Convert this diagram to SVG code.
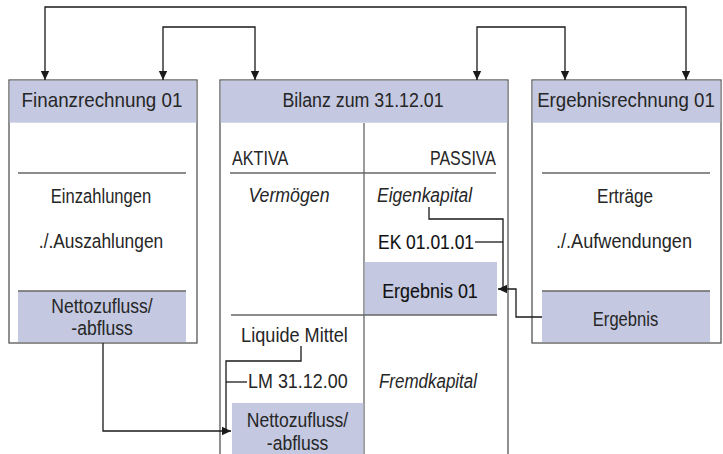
<svg xmlns="http://www.w3.org/2000/svg" width="723" height="454" viewBox="0 0 723 454">
<defs>
<marker id="ah" markerWidth="10" markerHeight="10" refX="9" refY="5" orient="auto-start-reverse" markerUnits="userSpaceOnUse">
<path d="M0,0.8 L9,5 L0,9.2 Z" fill="#1a1a1a"/>
</marker>
<style>
.box{fill:#fff;stroke:#555;stroke-width:1.3}
.hdr{fill:#c4c9e1}
.shade{fill:#c4c9e1}
.sep{stroke:#666;stroke-width:1.3;fill:none}
.t{font-family:"Liberation Sans",Arial,sans-serif;font-size:19.5px;fill:#262626}
.h{font-size:20px}
.i{font-style:italic}
.b{fill:#111;stroke:#111;stroke-width:0.12}
.c{text-anchor:middle}
.e{text-anchor:end}
.con{fill:none;stroke:#1a1a1a;stroke-width:1.3}
</style>
</defs>
<g id="finanzrechnung">
<rect class="box" x="9" y="80" width="188" height="263"/>
<rect class="hdr" x="9.7" y="80.7" width="186.6" height="42"/>
<line class="sep" x1="18" y1="173" x2="186" y2="173"/>
<text class="t c" transform="translate(101,203) scale(0.85,1)">Einzahlungen</text>
<text class="t c" transform="translate(101,248) scale(0.89,1)">./.Auszahlungen</text>
<rect class="shade" x="18" y="291" width="168" height="51"/>
<line class="sep" x1="18" y1="291" x2="186" y2="291"/>
<text class="t c" transform="translate(102,313) scale(0.9,1)">Nettozufluss/</text>
<text class="t c" transform="translate(102,335) scale(0.9,1)">-abfluss</text>
<text class="t h c" transform="translate(102,107) scale(0.94,1)">Finanzrechnung 01</text>
</g>
<g id="bilanz">
<rect class="box" x="220" y="80" width="288" height="380"/>
<rect class="hdr" x="220.7" y="80.7" width="286.6" height="42"/>
<line class="sep" x1="364" y1="123" x2="364" y2="454"/>
<line class="sep" x1="230" y1="173" x2="496" y2="173"/>
<text class="t" transform="translate(232,165) scale(0.83,1)">AKTIVA</text>
<text class="t e" transform="translate(496,165) scale(0.82,1)">PASSIVA</text>
<text class="t i c" transform="translate(289,202) scale(0.91,1)">Vermögen</text>
<text class="t i" transform="translate(377,202) scale(0.895,1)">Eigenkapital</text>
<text class="t b" transform="translate(378,249) scale(0.895,1)">EK 01.01.01</text>
<rect class="shade" x="364.7" y="262" width="132.3" height="53"/>
<line class="sep" x1="231" y1="315" x2="497" y2="315"/>
<text class="t b c" transform="translate(430,298) scale(0.92,1)">Ergebnis 01</text>
<text class="t c" transform="translate(294.5,342) scale(0.93,1)">Liquide Mittel</text>
<text class="t" transform="translate(248,388) scale(0.92,1)">LM 31.12.00</text>
<text class="t i" transform="translate(379,388) scale(0.87,1)">Fremdkapital</text>
<rect class="shade" x="232" y="403" width="131.3" height="51"/>
<text class="t c" transform="translate(297.5,427) scale(0.9,1)">Nettozufluss/</text>
<text class="t c" transform="translate(297.5,450) scale(0.9,1)">-abfluss</text>
<text class="t h c" transform="translate(363,107) scale(0.89,1)">Bilanz zum 31.12.01</text>
</g>
<g id="ergebnisrechnung">
<rect class="box" x="532" y="80" width="189" height="263"/>
<rect class="hdr" x="532.7" y="80.7" width="187.6" height="42"/>
<line class="sep" x1="542" y1="173" x2="710" y2="173"/>
<text class="t c" transform="translate(625,203) scale(0.875,1)">Erträge</text>
<text class="t c" transform="translate(624,248) scale(0.93,1)">./.Aufwendungen</text>
<rect class="shade" x="542" y="291" width="168" height="51"/>
<line class="sep" x1="542" y1="291" x2="710" y2="291"/>
<text class="t c" transform="translate(625.5,326) scale(0.85,1)">Ergebnis</text>
<text class="t h c" transform="translate(626,107) scale(0.935,1)">Ergebnisrechnung 01</text>
</g>
<g id="connectors">
<path class="con" d="M45,80 V7 H686 V80" marker-start="url(#ah)" marker-end="url(#ah)"/>
<path class="con" d="M163,80 V27 H255 V80" marker-start="url(#ah)" marker-end="url(#ah)"/>
<path class="con" d="M477,80 V27 H565 V80" marker-start="url(#ah)" marker-end="url(#ah)"/>
<path class="con" d="M429,207 V219 H503 V289"/>
<path class="con" d="M475,242 H503"/>
<path class="con" d="M542,317 H516 V289 H498" marker-end="url(#ah)"/>
<path class="con" d="M103,343 V431 H231" marker-end="url(#ah)"/>
<path class="con" d="M301,346 V361 H226 V431"/>
<path class="con" d="M226,382 H247"/>
</g>
</svg>
